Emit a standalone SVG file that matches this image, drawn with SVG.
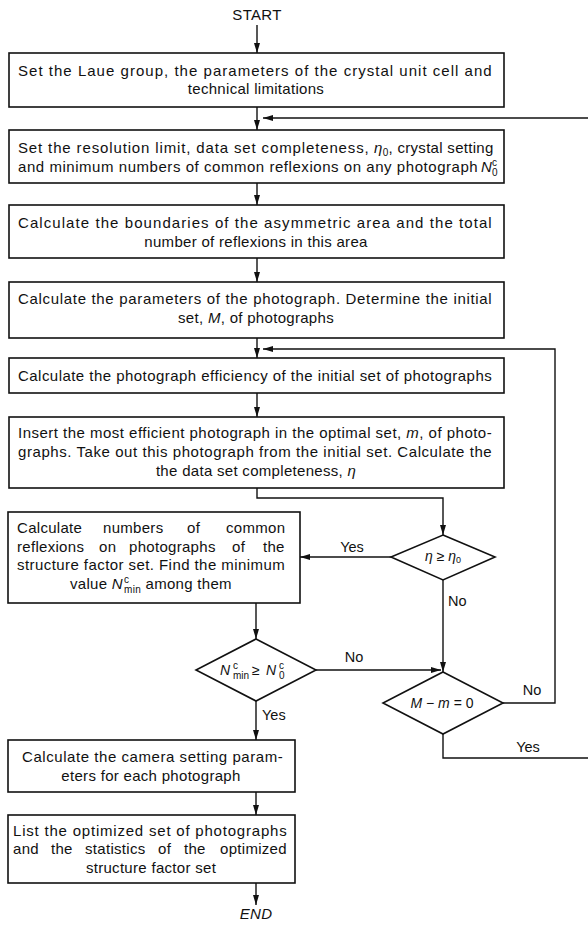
<svg xmlns="http://www.w3.org/2000/svg" width="588" height="925" viewBox="0 0 588 925">
<defs>
<style>
.box{fill:#fff;stroke:#111;stroke-width:1.6}
.dia{fill:#fff;stroke:#111;stroke-width:1.6}
.t{font-family:"Liberation Sans",Arial,sans-serif;font-size:15px;fill:#111;letter-spacing:0.3px}
.c{text-anchor:middle}
.i{font-style:italic}
.lbl{font-family:"Liberation Sans",Arial,sans-serif;font-size:14.5px;fill:#111}
.dt{font-family:"Liberation Sans",Arial,sans-serif;font-size:14px;fill:#111}
.conn{fill:none;stroke:#111;stroke-width:1.4}
.arr{marker-end:url(#ah)}
</style>
<marker id="ah" markerUnits="userSpaceOnUse" markerWidth="10" markerHeight="6" refX="10" refY="3" orient="auto">
<path d="M0,0 L10,3 L0,6 z" fill="#111"/>
</marker>
</defs>
<rect width="588" height="925" fill="#fff"/>

<g id="connectors">
<path class="conn arr" d="M257,25 V53"/>
<path class="conn arr" d="M257,107 V130"/>
<path class="conn arr" d="M588,118 H263"/>
<path class="conn arr" d="M257,183 V205"/>
<path class="conn arr" d="M257,258 V282"/>
<path class="conn arr" d="M257,338 V358"/>
<path class="conn arr" d="M257,393 V417"/>
<path class="conn arr" d="M257,488 V498 H443 V535"/>
<path class="conn arr" d="M391,557 H300"/>
<path class="conn arr" d="M443,580 V672"/>
<path class="conn arr" d="M256,603 V639"/>
<path class="conn arr" d="M316,670 H441"/>
<path class="conn arr" d="M503,703 H555 V349 H263"/>
<path class="conn" d="M443,734 V758 H588"/>
<path class="conn arr" d="M256,701 V740"/>
<path class="conn arr" d="M256,792 V815"/>
<path class="conn arr" d="M256,883 V905"/>
<text class="lbl c" x="352" y="552">Yes</text>
<text class="lbl" x="448" y="606">No</text>
<text class="lbl c" x="354" y="662">No</text>
<text class="lbl" x="262" y="720">Yes</text>
<text class="lbl c" x="532" y="695">No</text>
<text class="lbl c" x="528" y="752">Yes</text>
</g>

<g id="start">
<text class="t c" x="257" y="20">START</text>
</g>

<g id="box1">
<rect class="box" x="9" y="53" width="495" height="54"/>
<text class="t" x="18" y="76" textLength="474" lengthAdjust="spacing">Set the Laue group, the parameters of the crystal unit cell and</text>
<text class="t c" x="256" y="94">technical limitations</text>
</g>

<g id="box2">
<rect class="box" x="9" y="130" width="495" height="53"/>
<text class="t" y="153"><tspan x="18" textLength="351" lengthAdjust="spacing">Set the resolution limit, data set completeness,</tspan><tspan x="374" class="i">η</tspan><tspan dy="3" font-size="10">0</tspan><tspan dy="-3">, crystal setting</tspan></text>
<text class="t" y="172"><tspan x="18" textLength="460" lengthAdjust="spacing">and minimum numbers of common reflexions on any photograph</tspan><tspan x="481" class="i">N</tspan><tspan x="492" dy="-6" font-size="10">c</tspan><tspan x="492" dy="10" font-size="10">0</tspan></text>
</g>

<g id="box3">
<rect class="box" x="9" y="205" width="495" height="53"/>
<text class="t" x="18" y="228" textLength="474" lengthAdjust="spacing">Calculate the boundaries of the asymmetric area and the total</text>
<text class="t c" x="256" y="247">number of reflexions in this area</text>
</g>

<g id="box4">
<rect class="box" x="9" y="282" width="495" height="56"/>
<text class="t" x="18" y="304" textLength="474" lengthAdjust="spacing">Calculate the parameters of the photograph. Determine the initial</text>
<text class="t c" x="256" y="323">set, <tspan class="i">M</tspan>, of photographs</text>
</g>

<g id="box5">
<rect class="box" x="9" y="358" width="495" height="35"/>
<text class="t" x="18" y="381" textLength="474" lengthAdjust="spacing">Calculate the photograph efficiency of the initial set of photographs</text>
</g>

<g id="box6">
<rect class="box" x="9" y="417" width="495" height="71"/>
<text class="t" x="18" y="438" textLength="474" lengthAdjust="spacing">Insert the most efficient photograph in the optimal set, <tspan class="i">m</tspan>, of photo-</text>
<text class="t" x="18" y="457" textLength="474" lengthAdjust="spacing">graphs. Take out this photograph from the initial set. Calculate the</text>
<text class="t c" x="256" y="476">the data set completeness, <tspan class="i">η</tspan></text>
</g>

<g id="decision1">
<polygon class="dia" points="443,535 495,557 443,580 391,557"/>
<text class="dt c" x="443" y="561" font-size="12"><tspan class="i">η</tspan> ≥ <tspan class="i">η</tspan><tspan font-size="9" dy="2">0</tspan></text>
</g>

<g id="box7">
<rect class="box" x="8" y="512" width="292" height="91"/>
<text class="t" y="533"><tspan x="17">Calculate</tspan><tspan x="103">numbers</tspan><tspan x="187">of</tspan><tspan x="226">common</tspan></text>
<text class="t" y="551.5"><tspan x="17">reflexions</tspan><tspan x="99">on</tspan><tspan x="129">photographs</tspan><tspan x="232">of</tspan><tspan x="263">the</tspan></text>
<text class="t" x="17" y="570" textLength="268" lengthAdjust="spacing">structure factor set. Find the minimum</text>
<text class="t" y="588.5"><tspan x="70">value </tspan><tspan class="i">N</tspan><tspan x="124" dy="-6" font-size="10">c</tspan><tspan x="124" dy="10" font-size="10">min</tspan><tspan dy="-4"> among them</tspan></text>
</g>

<g id="decision2">
<polygon class="dia" points="256,639 316,670 256,701 196,670"/>
<text class="dt" y="675" font-size="15"><tspan x="220" class="i">N</tspan><tspan x="233" dy="-6" font-size="10">c</tspan><tspan x="233" dy="10" font-size="10">min</tspan><tspan x="252" dy="-4">≥</tspan><tspan x="266" class="i">N</tspan><tspan x="279" dy="-6" font-size="10">c</tspan><tspan x="279" dy="10" font-size="10">0</tspan></text>
</g>

<g id="decision3">
<polygon class="dia" points="443,672 503,703 443,734 383,703"/>
<text class="dt c" x="442" y="708"><tspan class="i">M</tspan> − <tspan class="i">m</tspan> = 0</text>
</g>

<g id="box8">
<rect class="box" x="8" y="740" width="287" height="52"/>
<text class="t" x="22" y="762" textLength="261" lengthAdjust="spacing">Calculate the camera setting param-</text>
<text class="t c" x="151" y="780.5">eters for each photograph</text>
</g>

<g id="box9">
<rect class="box" x="8" y="815" width="287" height="68"/>
<text class="t" x="13" y="836" textLength="274" lengthAdjust="spacing">List the optimized set of photographs</text>
<text class="t" y="854"><tspan x="13">and</tspan><tspan x="51">the</tspan><tspan x="85">statistics</tspan><tspan x="158">of</tspan><tspan x="184">the</tspan><tspan x="220">optimized</tspan></text>
<text class="t c" x="151" y="873">structure factor set</text>
</g>

<g id="end">
<text class="t c i" x="256" y="919">END</text>
</g>
</svg>
